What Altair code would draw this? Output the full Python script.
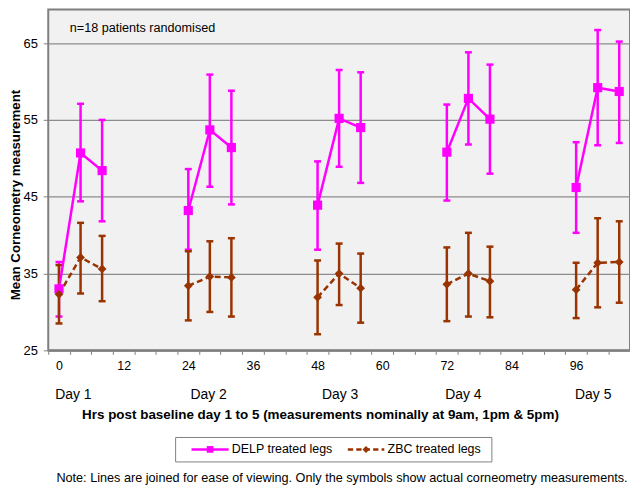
import altair as alt
import pandas as pd

# ---------------- data ----------------
hours = [0, 4, 8, 24, 28, 32, 48, 52, 56, 72, 76, 80, 96, 100, 104]

delp_mean = [33.0, 50.7, 48.4, 43.2, 53.7, 51.4, 43.9, 55.2, 54.0, 50.8, 57.8, 55.1, 46.2, 59.2, 58.7]
delp_upper = [36.5, 57.1, 55.0, 48.6, 60.9, 58.8, 49.6, 61.5, 61.2, 57.0, 63.8, 62.2, 52.1, 66.7, 65.2]
delp_lower = [29.4, 44.4, 41.8, 38.1, 46.3, 44.0, 38.1, 48.9, 46.8, 44.5, 51.8, 48.0, 40.3, 51.7, 52.0]

zbc_mean = [32.3, 37.1, 35.6, 33.4, 34.6, 34.5, 31.9, 35.0, 33.1, 33.6, 35.0, 34.0, 32.9, 36.4, 36.5]
zbc_upper = [36.1, 41.6, 39.9, 37.9, 39.2, 39.6, 36.7, 38.9, 37.6, 38.4, 40.3, 38.5, 36.4, 42.2, 41.8]
zbc_lower = [28.5, 32.4, 31.4, 28.9, 30.0, 29.4, 27.1, 30.9, 28.6, 28.8, 29.4, 29.3, 29.2, 30.6, 31.2]

series_names = ["DELP treated legs", "ZBC treated legs"]
series_colors = ["#FF00FF", "#993300"]

y_ticks = [25, 35, 45, 55, 65]
x_tick_labels = [0, 12, 24, 36, 48, 60, 72, 84, 96]
x_tick_marks = list(range(-2, 107, 4))

day_labels = ["Day 1", "Day 2", "Day 3", "Day 4", "Day 5"]
day_label_hours = [-0.7, 24.4, 48.8, 71.7, 95.8]

annotation_text = "n=18 patients randomised"
note_text = ("Note: Lines are joined for ease of viewing. "
             "Only the symbols show actual corneometry measurements.")
x_title = "Hrs post baseline day 1 to 5 (measurements nominally at 9am, 1pm & 5pm)"
y_title = "Mean Corneometry measurement"

# ---------------- layout ----------------
W = 585.5
H = 343
FONT = "Liberation Sans"
MAGENTA, BROWN = series_colors


def frame(mean, lo, hi):
    return pd.DataFrame({
        "hour": hours, "value": mean, "lo": lo, "hi": hi,
        "day": [h // 24 for h in hours],
    })


delp_df = frame(delp_mean, delp_lower, delp_upper)
zbc_df = frame(zbc_mean, zbc_lower, zbc_upper)

label_expr = (f"indexof({x_tick_labels}, datum.value + 2) >= 0 "
              f"? '' + (datum.value + 2) : ''")

x_scale = alt.Scale(domain=[-2, 106], nice=False, zero=False)
y_scale = alt.Scale(domain=[25, 69.37], nice=False, zero=False)

x_axis = alt.Axis(
    values=x_tick_marks, labelExpr=label_expr, labelOffset=2 * W / 108,
    labelFlush=False, labelOverlap=False, labelBound=False,
    grid=False, domain=True, domainColor="#7f7f7f", domainWidth=2,
    ticks=True, tickSize=4, tickColor="#7f7f7f", tickWidth=1,
    labelFontSize=12.5, labelColor="black", labelPadding=5, labelFont=FONT,
    title=x_title, titleFontSize=13.5, titleFontWeight="bold", titleColor="black",
    titleFont=FONT, titleX=273.5, titleY=65, titleAlign="center",
    titleBaseline="middle",
)
y_axis = alt.Axis(
    values=y_ticks, grid=True, gridColor="#8c8c8c", gridWidth=1.3,
    domain=False, ticks=True, tickSize=5, tickColor="#7f7f7f", tickWidth=1,
    labelFontSize=13, labelColor="black", labelPadding=6, labelFont=FONT,
    title=y_title, titleFontSize=13.4, titleFontWeight="bold", titleColor="black",
    titleFont=FONT, titleX=-32.8, titleY=186.2, titleAngle=270,
    titleAlign="center", titleBaseline="middle",
)

X = alt.X("hour:Q", scale=x_scale, axis=x_axis)


def Yf(field):
    return alt.Y(f"{field}:Q", scale=y_scale, axis=y_axis)


def bars(df, color):
    base = alt.Chart(df)
    rule = base.mark_rule(color=color, strokeWidth=2.5).encode(
        x=X, y=Yf("lo"), y2="hi:Q")
    cap_hi = base.mark_tick(color=color, orient="horizontal", size=7,
                            thickness=2.5, opacity=1).encode(x=X, y=Yf("hi"))
    cap_lo = base.mark_tick(color=color, orient="horizontal", size=7,
                            thickness=2.5, opacity=1).encode(x=X, y=Yf("lo"))
    return [rule, cap_hi, cap_lo]


delp_line = alt.Chart(delp_df).mark_line(color=MAGENTA, strokeWidth=2.5).encode(
    x=X, y=Yf("value"), detail="day:N")
zbc_line = alt.Chart(zbc_df).mark_line(color=BROWN, strokeWidth=2.5,
                                       strokeDash=[6, 3.5]).encode(
    x=X, y=Yf("value"), detail="day:N")

delp_pts = alt.Chart(delp_df).mark_point(shape="square", filled=True, size=85,
                                         opacity=1, color=MAGENTA).encode(
    x=X, y=Yf("value"))
zbc_pts = alt.Chart(zbc_df).mark_point(shape="diamond", filled=True, size=78,
                                       opacity=1, color=BROWN).encode(
    x=X, y=Yf("value"))

ann = alt.Chart(pd.DataFrame({"hour": [2.0], "value": [67.0], "t": [annotation_text]})).mark_text(
    align="left", baseline="middle", fontSize=12.7, font=FONT, color="black").encode(
    x=X, y=Yf("value"), text="t:N")

days = alt.Chart(pd.DataFrame({"hour": day_label_hours, "t": day_labels})).mark_text(
    align="left", baseline="middle", fontSize=14, font=FONT, color="black").encode(
    x=X, y=alt.value(388), text="t:N")

one = pd.DataFrame({"k": [0]})

note = alt.Chart(one).mark_text(
    align="left", baseline="middle", fontSize=12.75, font=FONT, color="black").encode(
    x=alt.value(8.2), y=alt.value(471.3), text=alt.value(note_text))

# ---------------- legend (box, glyphs, labels) ----------------
LEG_Y = 442.7
legend_box = alt.Chart(one).mark_rect(fill="white", stroke="#808080", strokeWidth=1).encode(
    x=alt.value(128.2), x2=alt.value(446.5), y=alt.value(430.7), y2=alt.value(455.3))

leg_delp_line = alt.Chart(one).mark_rule(color=MAGENTA, strokeWidth=2.5).encode(
    x=alt.value(144.2), x2=alt.value(181.5), y=alt.value(LEG_Y))
leg_delp_pt = alt.Chart(one).mark_point(shape="square", filled=True, size=45,
                                        opacity=1, color=MAGENTA).encode(
    x=alt.value(162.9), y=alt.value(LEG_Y))
leg_delp_txt = alt.Chart(one).mark_text(
    align="left", baseline="middle", fontSize=12.5, font=FONT, color="black").encode(
    x=alt.value(184.8), y=alt.value(LEG_Y), text=alt.value(series_names[0]))

leg_zbc_line = alt.Chart(one).mark_rule(color=BROWN, strokeWidth=2.5,
                                        strokeDash=[5.3, 3.2]).encode(
    x=alt.value(301.5), x2=alt.value(338.2), y=alt.value(LEG_Y))
leg_zbc_pt = alt.Chart(one).mark_point(shape="diamond", filled=True, size=50,
                                       opacity=1, color=BROWN).encode(
    x=alt.value(319.8), y=alt.value(LEG_Y))
leg_zbc_txt = alt.Chart(one).mark_text(
    align="left", baseline="middle", fontSize=12.5, font=FONT, color="black").encode(
    x=alt.value(341.5), y=alt.value(LEG_Y), text=alt.value(series_names[1]))

layers = (bars(delp_df, MAGENTA) + bars(zbc_df, BROWN)
          + [delp_line, zbc_line, delp_pts, zbc_pts, ann, days, note,
             legend_box, leg_delp_line, leg_delp_pt, leg_delp_txt,
             leg_zbc_line, leg_zbc_pt, leg_zbc_txt])

chart = alt.layer(*layers).properties(
    width=W, height=H,
    padding={"left": 40.5, "top": 0, "right": 0, "bottom": 138},
    autosize=alt.AutoSizeParams(type="none"),
).configure(font=FONT, background="white").configure_view(
    stroke="#7f7f7f", strokeWidth=2, fill="#f1f1f1")

chart.save("out.html", embed_options={"renderer": "svg", "actions": False})
